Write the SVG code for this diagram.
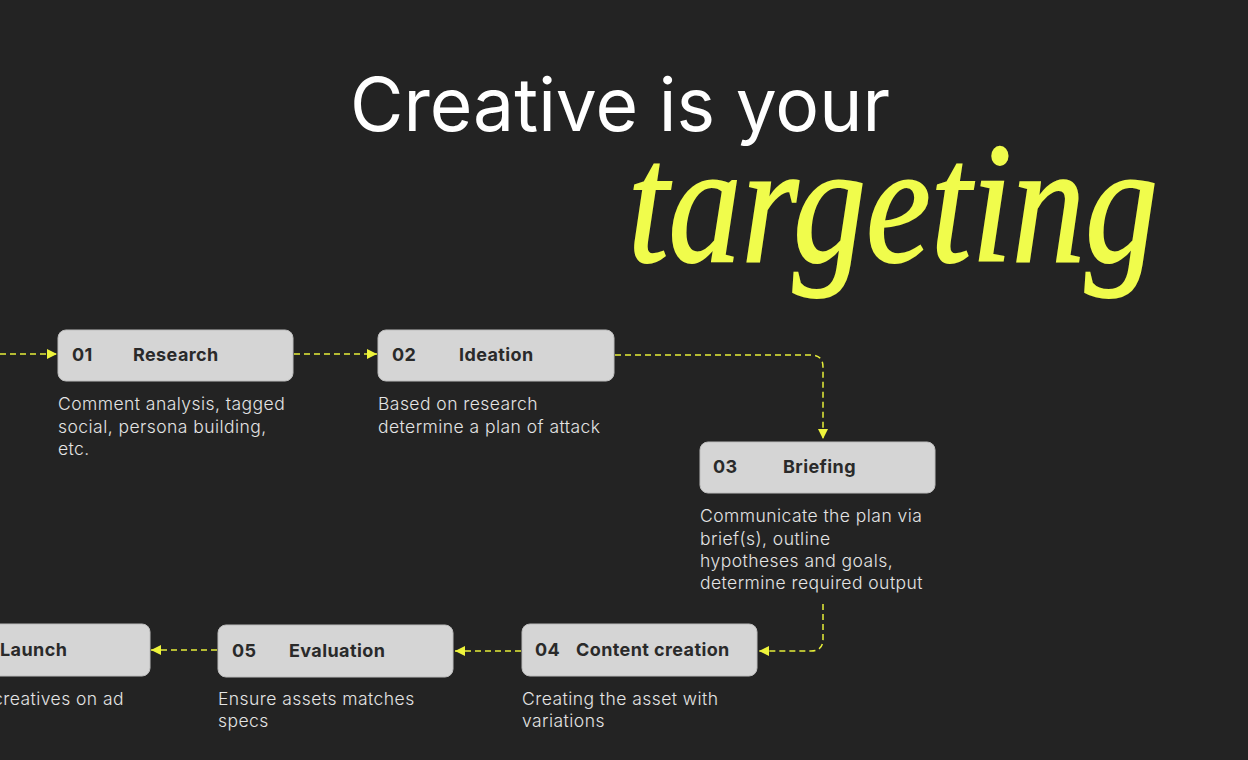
<svg xmlns="http://www.w3.org/2000/svg" width="1248" height="760" viewBox="0 0 1248 760">
<defs>
<marker id="arr" viewBox="0 0 10 10" refX="10" refY="5" markerWidth="10" markerHeight="10" markerUnits="userSpaceOnUse" orient="auto">
<path d="M0,0 L10,5 L0,10 Z" fill="#eef43c"/>
</marker>
<style>
.box{fill:#d5d5d5;stroke:#bdbdbd;stroke-width:1}
.num{font-family:Inter,"Noto Sans",sans-serif;font-weight:700;font-size:18px;letter-spacing:0.4px;fill:#2a2a2a}
.ttl{font-family:Inter,"Noto Sans",sans-serif;font-weight:700;font-size:18px;letter-spacing:0.4px;fill:#2a2a2a}
.desc{font-family:Inter,"Noto Sans",sans-serif;font-weight:300;font-size:17.5px;letter-spacing:0.45px;fill:#e4e4e4}
.con{fill:none;stroke:#e6ee3a;stroke-width:1.5;stroke-dasharray:6 4}
</style>
</defs>
<rect width="1248" height="760" fill="#232323"/>
<text x="350" y="131" font-family="Inter,'Noto Sans',sans-serif" font-size="74" fill="#ffffff" textLength="540" lengthAdjust="spacingAndGlyphs">Creative is your</text>
<text x="628" y="261" font-family="'Liberation Serif',serif" font-style="italic" font-size="172" fill="#f0fc4c" stroke="#f0fc4c" stroke-width="2" textLength="530" lengthAdjust="spacingAndGlyphs">targeting</text>
<g id="connectors">
<path class="con" d="M0,354 L57,354" marker-end="url(#arr)"/>
<path class="con" d="M294,354 L377,354" marker-end="url(#arr)"/>
<path class="con" d="M615,355 L811,355 Q823,355 823,367 L823,439" marker-end="url(#arr)"/>
<path class="con" d="M823,604 L823,639 Q823,651 811,651 L759,651" marker-end="url(#arr)"/>
<path class="con" d="M521,651 L455,651" marker-end="url(#arr)"/>
<path class="con" d="M217,650 L151,650" marker-end="url(#arr)"/>
</g>
<g id="n01">
<rect class="box" x="58" y="330" width="235" height="51" rx="8"/>
<text class="num" x="72" y="361">01</text>
<text class="ttl" x="133" y="361">Research</text>
<text class="desc" x="58" y="410">Comment analysis, tagged</text>
<text class="desc" x="58" y="433">social, persona building,</text>
<text class="desc" x="58" y="455">etc.</text>
</g>
<g id="n02">
<rect class="box" x="378" y="330" width="236" height="51" rx="8"/>
<text class="num" x="392" y="361">02</text>
<text class="ttl" x="459" y="361">Ideation</text>
<text class="desc" x="378" y="410">Based on research</text>
<text class="desc" x="378" y="433">determine a plan of attack</text>
</g>
<g id="n03">
<rect class="box" x="700" y="442" width="235" height="51" rx="8"/>
<text class="num" x="713" y="473">03</text>
<text class="ttl" x="783" y="473">Briefing</text>
<text class="desc" x="700" y="522">Communicate the plan via</text>
<text class="desc" x="700" y="545">brief(s), outline</text>
<text class="desc" x="700" y="567">hypotheses and goals,</text>
<text class="desc" x="700" y="589">determine required output</text>
</g>
<g id="n04">
<rect class="box" x="522" y="624" width="235" height="52" rx="8"/>
<text class="num" x="535" y="656">04</text>
<text class="ttl" x="576" y="656">Content creation</text>
<text class="desc" x="522" y="705">Creating the asset with</text>
<text class="desc" x="522" y="727">variations</text>
</g>
<g id="n05">
<rect class="box" x="218" y="625" width="235" height="52" rx="8"/>
<text class="num" x="232" y="657">05</text>
<text class="ttl" x="289" y="657">Evaluation</text>
<text class="desc" x="218" y="705">Ensure assets matches</text>
<text class="desc" x="218" y="727">specs</text>
</g>
<g id="n06">
<rect class="box" x="-85" y="624" width="235" height="52" rx="8"/>
<text class="ttl" x="0" y="656">Launch</text>
<text class="desc" x="124" y="705" text-anchor="end">creatives on ad</text>
</g>
</svg>
